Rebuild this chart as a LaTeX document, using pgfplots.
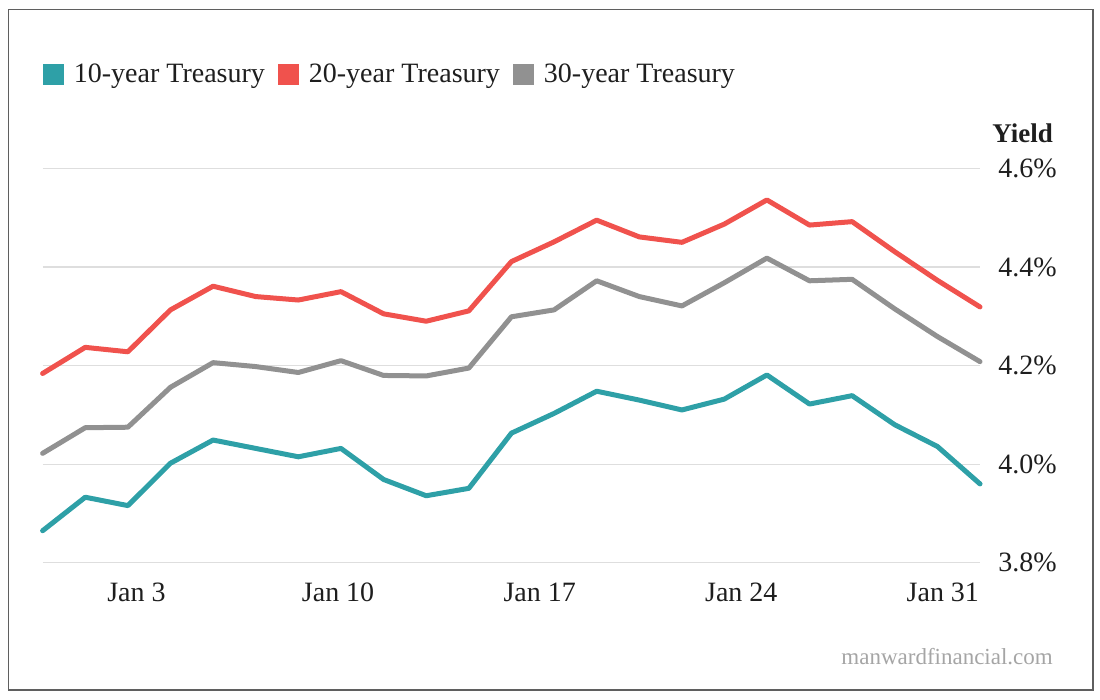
\documentclass[border=0pt]{standalone}
\usepackage{fontspec}
\setmainfont{Liberation Serif}
\usepackage{pgfplots}
\usepackage{pgfplotstable}
\pgfplotsset{compat=1.18}
\definecolor{tealc}{RGB}{46,160,167}
\definecolor{redc}{RGB}{240,82,77}
\definecolor{grayc}{RGB}{145,145,145}
\definecolor{gridc}{RGB}{222,222,222}
\definecolor{framec}{RGB}{95,95,95}
\definecolor{txtc}{RGB}{30,30,30}
\definecolor{wmc}{RGB}{165,165,165}

\pgfplotstableread{
x      t10    t20    t30
-0.26  3.865  4.184  4.022
1.22   3.933  4.237  4.074
2.70   3.916  4.228  4.075
4.18   4.002  4.313  4.156
5.66   4.049  4.361  4.206
7.14   4.032  4.340  4.198
8.62   4.015  4.333  4.186
10.10  4.032  4.350  4.210
11.58  3.969  4.305  4.180
13.06  3.936  4.290  4.179
14.54  3.951  4.311  4.195
16.02  4.063  4.411  4.299
17.50  4.103  4.451  4.313
18.98  4.148  4.495  4.372
20.46  4.130  4.461  4.340
21.94  4.110  4.450  4.321
23.41  4.132  4.487  4.368
24.89  4.181  4.536  4.418
26.37  4.122  4.485  4.372
27.85  4.139  4.492  4.375
29.33  4.080  4.431  4.315
30.81  4.036  4.373  4.259
32.29  3.960  4.319  4.208
}\yields

\begin{document}
\begin{tikzpicture}[x=1pt,y=1pt]
\useasboundingbox (0,0) rectangle (1100,700);
\draw[framec, line width=1.5pt] (8.3,10) rectangle (1093,690.7);
\begin{axis}[
  at={(42.7pt,137.2pt)}, anchor=south west,
  scale only axis, width=937.3pt, height=394.4pt,
  xmin=-0.257, xmax=32.29, ymin=3.8, ymax=4.6,
  axis line style={draw=none},
  clip=false,
  xtick={3,10,17,24,31},
  xticklabels={Jan 3,Jan 10,Jan 17,Jan 24,Jan 31},
  ytick={3.8,4.0,4.2,4.4,4.6},
  yticklabels={3.8\%,4.0\%,4.2\%,4.4\%,4.6\%},
  major tick length=0pt,
  ymajorgrids,
  grid style={gridc, line width=1.3pt},
  yticklabel pos=right,
  xticklabel style={anchor=north, inner sep=0pt, yshift=-20pt, text=txtc, font=\fontsize{28pt}{30pt}\selectfont},
  yticklabel style={anchor=east, inner sep=0pt, xshift=77pt, text=txtc, font=\fontsize{28pt}{30pt}\selectfont},
  legend columns=3,
  legend style={at={(axis description cs:0,1.2393)}, anchor=west, draw=none, fill=none,
    inner xsep=0pt, inner ysep=0pt, text=txtc,
    font=\fontsize{28pt}{30pt}\selectfont,
    /tikz/every odd column/.append style={column sep=8pt},
    /tikz/every even column/.append style={column sep=11pt}},
  legend image code/.code={\fill[draw=none] (0pt,-10.5pt) rectangle (21pt,10.5pt);},
  every axis plot/.append style={line width=5pt, line cap=round, line join=round},
]
\addplot[color=tealc] table[x=x, y=t10] {\yields};
\addplot[color=redc] table[x=x, y=t20] {\yields};
\addplot[color=grayc] table[x=x, y=t30] {\yields};
\legend{10-year Treasury,20-year Treasury,30-year Treasury}
\end{axis}
\node[anchor=east, inner sep=0pt, text=txtc, font=\bfseries\fontsize{27pt}{29pt}\selectfont] at (1053,567) {Yield};
\node[anchor=east, inner sep=0pt, text=wmc, font=\fontsize{23pt}{25pt}\selectfont] at (1053,43) {manwardfinancial.com};
\end{tikzpicture}
\end{document}
